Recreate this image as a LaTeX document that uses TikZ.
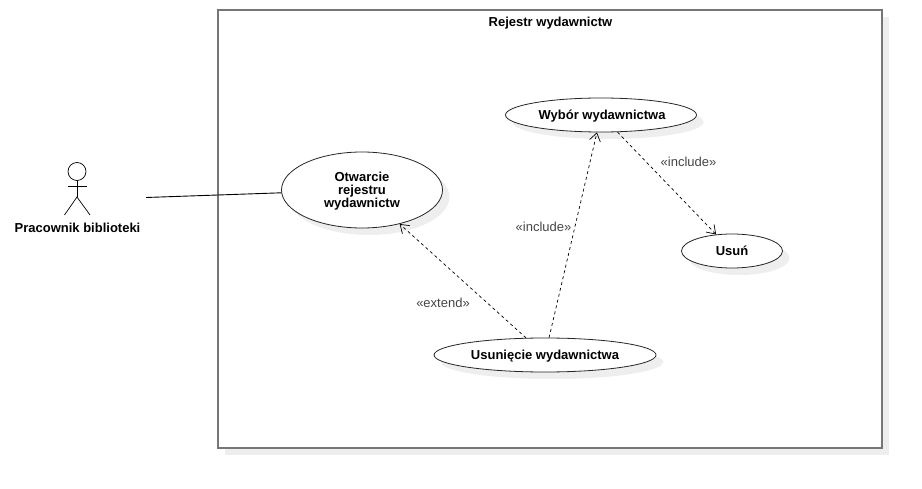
\documentclass[tikz,border=0pt]{standalone}
\usepackage{fontspec}
\setmainfont{Liberation Sans}
\usepackage{tikz}
\usetikzlibrary{arrows.meta,shapes.geometric,shadows}
\definecolor{framegray}{RGB}{118,118,118}
\definecolor{shadowgray}{RGB}{238,238,238}
\definecolor{labelgray}{RGB}{70,70,70}
\tikzset{
  system/.style={rectangle,draw=framegray,line width=1.4pt,fill=white,minimum width=664pt,minimum height=438pt,inner sep=0pt,drop shadow={shadow xshift=7pt,shadow yshift=-7pt,fill=shadowgray,opacity=1}},
  usecase/.style={ellipse,draw=black!85,line width=0.8pt,fill=white,inner sep=0pt,align=center,font=\fontsize{13}{13}\selectfont\bfseries,drop shadow={shadow xshift=7pt,shadow yshift=-7pt,fill=shadowgray,opacity=1}},
  oneline/.style={text height=9.4pt,text depth=1pt},
  title/.style={font=\fontsize{13}{13}\selectfont\bfseries,inner sep=0pt},
  stereo/.style={font=\fontsize{13}{13}\selectfont,text=labelgray,inner sep=0pt},
  assoc/.style={draw=black,line width=0.9pt},
  dep/.style={-{Straight Barb[length=8pt,width=11pt]},dash pattern=on 3pt off 3pt,line width=0.7pt},
  stick/.style={draw=black,line width=0.7pt}
}
\begin{document}
\begin{tikzpicture}[x=1pt,y=-1pt]
  \useasboundingbox (0,0) rectangle (922,489);
  \node[system] (Rejestr) at (550,229) {};
  \node[title] (RejestrT) at (550.5,23) {Rejestr wydawnictw};

  \node[usecase,minimum width=161pt,minimum height=76pt] (Otw) at (362,190) {\rule{0pt}{11.5pt}Otwarcie\\rejestru\\wydawnictw};
  \node[usecase,oneline,minimum width=191pt,minimum height=34pt] (Wyb) at (601,115) {\,Wybór wydawnictwa};
  \node[usecase,oneline,minimum width=101pt,minimum height=34pt] (Usn) at (732,251) {Usuń};
  \node[usecase,oneline,minimum width=222pt,minimum height=34pt] (Usu) at (545,355) {Usunięcie wydawnictwa};

  % aktor
  \node[circle,stick,minimum size=18pt,inner sep=0pt] (Head) at (77,171.5) {};
  \coordinate (Neck) at (77,197);
  \coordinate (ArmL) at (68,186.5);
  \coordinate (ArmR) at (87,186.5);
  \coordinate (LegL) at (64.5,215);
  \coordinate (LegR) at (90,215);
  \draw[stick] (Head) -- (Neck);
  \draw[stick] (ArmL) -- (ArmR);
  \draw[stick] (LegL) -- (Neck) -- (LegR);
  \node[title] (Actor) at (77.5,228) {Pracownik biblioteki};

  \coordinate (ActorEnd) at (146,197.5);
  \draw[assoc] (ActorEnd) -- (Otw);
  \draw[dep] (Usu) -- (Otw);
  \draw[dep] (Usu) -- (Wyb);
  \draw[dep] (Wyb) -- (Usn);

  \node[stereo] (LblExt) at (443,303) {«extend»};
  \node[stereo] (LblIncA) at (543.5,227) {«include»};
  \node[stereo] (LblIncB) at (688.5,162) {«include»};
\end{tikzpicture}
\end{document}
